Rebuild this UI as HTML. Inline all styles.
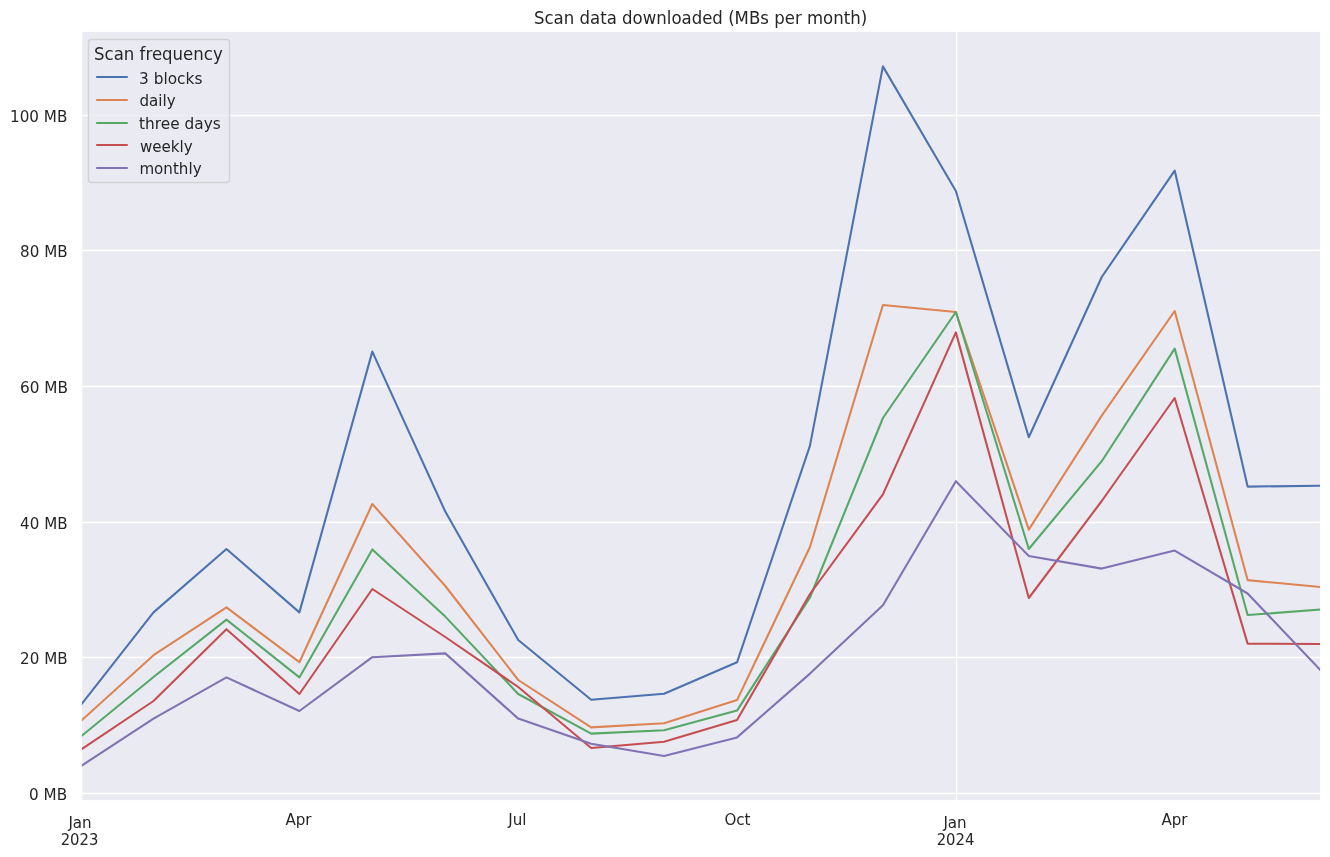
<!DOCTYPE html>
<html lang="en"><head><meta charset="utf-8">
<title>Scan data downloaded (MBs per month)</title>
<style>
html,body{margin:0;padding:0;background:#fff;}
body{width:1330px;height:857px;overflow:hidden;}
svg{display:block;}
text{font-family:"DejaVu Sans","Liberation Sans",sans-serif;fill:#262626;}
.tick{font-size:15.278px;}
.title{font-size:16.667px;}
.grid{stroke:#fff;stroke-width:1.389;fill:none;}
.spine{stroke:#fff;stroke-width:1.736;fill:none;}
.ln{fill:none;stroke-width:2.083;stroke-linejoin:round;stroke-linecap:round;}
</style></head><body>
<svg width="1330" height="857" viewBox="0 0 1330 857">
<defs><clipPath id="axclip"><rect x="80.569" y="31.406" width="1240.000" height="770.000"/></clipPath></defs>
<rect x="0" y="0" width="1330" height="857" fill="#ffffff"/>
<!-- axes background -->
<rect x="81" y="31" width="1240" height="770" fill="#eaeaf2"/>
<!-- grid -->
<g class="grid">
<line x1="81.5" y1="31" x2="81.5" y2="801"/>
<line x1="956.5" y1="31" x2="956.5" y2="801"/>
<line x1="81" y1="793.5" x2="1321" y2="793.5"/>
<line x1="81" y1="657.5" x2="1321" y2="657.5"/>
<line x1="81" y1="522.5" x2="1321" y2="522.5"/>
<line x1="81" y1="386.5" x2="1321" y2="386.5"/>
<line x1="81" y1="250.5" x2="1321" y2="250.5"/>
<line x1="81" y1="115.5" x2="1321" y2="115.5"/>
</g>
<!-- data series -->
<g clip-path="url(#axclip)">
<polyline class="ln" stroke="#4c72b0" points="80.57,705.42 153.51,612.40 226.45,549.00 299.39,612.40 372.33,351.60 445.28,511.60 518.22,640.00 591.16,699.70 664.10,693.80 737.04,662.30 809.98,445.60 882.92,66.40 955.86,191.00 1028.80,437.20 1101.75,277.00 1174.69,170.60 1247.63,486.60 1320.57,485.79"/>
<polyline class="ln" stroke="#dd8452" points="80.57,721.30 153.51,655.20 226.45,607.40 299.39,662.20 372.33,504.00 445.28,586.00 518.22,680.00 591.16,727.40 664.10,723.20 737.04,700.10 809.98,547.00 882.92,305.00 955.86,312.00 1028.80,529.60 1101.75,415.60 1174.69,311.00 1247.63,580.10 1320.57,587.05"/>
<polyline class="ln" stroke="#55a868" points="80.57,736.77 153.51,677.00 226.45,619.60 299.39,677.40 372.33,549.40 445.28,616.60 518.22,694.00 591.16,733.60 664.10,730.20 737.04,710.60 809.98,597.50 882.92,418.00 955.86,312.00 1028.80,549.00 1101.75,461.20 1174.69,348.60 1247.63,615.00 1320.57,609.56"/>
<polyline class="ln" stroke="#c44e52" points="80.57,749.96 153.51,701.00 226.45,629.20 299.39,694.00 372.33,589.00 445.28,637.00 518.22,687.00 591.16,748.00 664.10,741.80 737.04,720.00 809.98,594.00 882.92,494.40 955.86,332.40 1028.80,598.00 1101.75,501.00 1174.69,398.00 1247.63,643.60 1320.57,644.00"/>
<polyline class="ln" stroke="#8172b3" points="80.57,766.34 153.51,718.60 226.45,677.40 299.39,711.00 372.33,657.20 445.28,653.40 518.22,718.60 591.16,743.80 664.10,756.00 737.04,737.40 809.98,673.60 882.92,605.30 955.86,481.20 1028.80,556.00 1101.75,568.60 1174.69,550.60 1247.63,593.50 1320.57,670.20"/>
</g>
<!-- spines -->
<rect class="spine" x="81" y="31" width="1240" height="770"/>
<!-- y tick labels -->
<text class="tick" transform="translate(67.13,800) scale(0.995,1.03)" text-anchor="end">0 MB</text>
<text class="tick" transform="translate(67.57,664) scale(0.99,1)" text-anchor="end">20 MB</text>
<text class="tick" transform="translate(67.56,529) scale(0.99,1.06)" text-anchor="end">40 MB</text>
<text class="tick" transform="translate(67.88,393) scale(1,1.03)" text-anchor="end">60 MB</text>
<text class="tick" transform="translate(67.56,257) scale(0.99,1)" text-anchor="end">80 MB</text>
<text class="tick" transform="translate(67.38,122) scale(0.995,1)" text-anchor="end">100 MB</text>
<!-- x tick labels -->
<text class="tick" transform="translate(80.05,828) scale(0.99,1)" text-anchor="middle">Jan</text>
<text class="tick" transform="translate(79.54,845) scale(0.97,1)" text-anchor="middle">2023</text>
<text class="tick" transform="translate(298.51,825) scale(0.99,1)" text-anchor="middle">Apr</text>
<text class="tick" transform="translate(517.44,825) scale(0.99,1)" text-anchor="middle">Jul</text>
<text class="tick" transform="translate(737.45,825) scale(0.99,1)" text-anchor="middle">Oct</text>
<text class="tick" transform="translate(955.02,828) scale(0.99,1.06)" text-anchor="middle">Jan</text>
<text class="tick" transform="translate(955.48,845) scale(0.97,1)" text-anchor="middle">2024</text>
<text class="tick" transform="translate(1174.52,825) scale(0.99,1)" text-anchor="middle">Apr</text>
<!-- title -->
<text class="title" transform="translate(700.57,24) scale(0.995,1.03)" text-anchor="middle">Scan data downloaded (MBs per month)</text>
<!-- legend -->
<rect x="88.5" y="39.5" width="141" height="143" rx="3.06" ry="3.06" fill="#eaeaf2" fill-opacity="0.8" stroke="#cccccc" stroke-opacity="0.8" stroke-width="1.389"/>
<text class="title" transform="translate(94.07,60) scale(0.995,1.03)">Scan frequency</text>
<line class="ln" stroke="#4c72b0" x1="97" y1="77" x2="127" y2="77"/>
<text class="tick" transform="translate(139.08,84) scale(1.005,1)">3 blocks</text>
<line class="ln" stroke="#dd8452" x1="97" y1="100" x2="127" y2="100"/>
<text class="tick" transform="translate(139.42,106) scale(0.99,1.03)">daily</text>
<line class="ln" stroke="#55a868" x1="97" y1="123" x2="127" y2="123"/>
<text class="tick" transform="translate(139.08,129) scale(1.005,1.06)">three days</text>
<line class="ln" stroke="#c44e52" x1="97" y1="145" x2="127" y2="145"/>
<text class="tick" transform="translate(139.9,152) scale(0.99,1)">weekly</text>
<line class="ln" stroke="#8172b3" x1="97" y1="168" x2="127" y2="168"/>
<text class="tick" transform="translate(139.39,174) scale(0.99,1.03)">monthly</text>
</svg>
</body></html>
